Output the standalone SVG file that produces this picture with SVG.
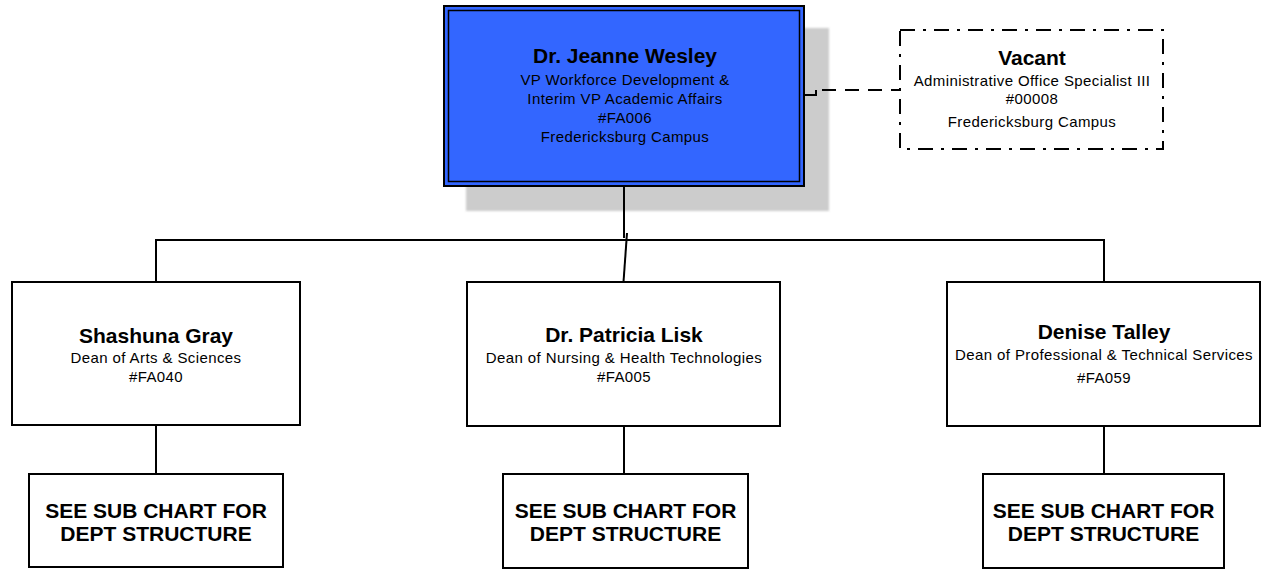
<svg xmlns="http://www.w3.org/2000/svg" width="1261" height="570" viewBox="0 0 1261 570">
  <defs>
    <filter id="soft" x="-5%" y="-5%" width="110%" height="110%">
      <feGaussianBlur stdDeviation="1"/>
    </filter>
  </defs>
  <style>
    .box { fill: #ffffff; stroke: #000000; stroke-width: 2; }
    .name { font-family: "Liberation Sans", Arial, sans-serif; font-weight: bold; font-size: 21px; fill: #000000; text-anchor: middle; }
    .sub { font-family: "Liberation Sans", Arial, sans-serif; font-size: 15px; letter-spacing: 0.4px; fill: #000000; text-anchor: middle; }
    .line { fill: none; stroke: #000000; stroke-width: 2; }
    .dash { fill: none; stroke: #000000; stroke-width: 2; stroke-dasharray: 14 9; }
  </style>
  <rect width="1261" height="570" fill="#ffffff"/>

  <g id="node-jeanne-wesley">
    <rect x="466" y="28" width="363" height="183" fill="#cccccc" filter="url(#soft)"/>
    <rect x="444" y="6" width="360" height="180" fill="#3366ff" stroke="#000000" stroke-width="2"/>
    <rect x="448.5" y="10.5" width="351" height="171" fill="none" stroke="#000000" stroke-width="1.5"/>
    <text class="name" x="625" y="63">Dr. Jeanne Wesley</text>
    <text class="sub" x="625" y="85">VP Workforce Development &amp;</text>
    <text class="sub" x="625" y="104">Interim VP Academic Affairs</text>
    <text class="sub" x="625" y="123">#FA006</text>
    <text class="sub" x="625" y="142">Fredericksburg Campus</text>
  </g>

  <g id="node-vacant">
    <rect x="900" y="30" width="263" height="119" fill="#ffffff" stroke="#000000" stroke-width="2" stroke-dasharray="15 8 3 8"/>
    <text class="name" x="1032" y="65">Vacant</text>
    <text class="sub" x="1032" y="86">Administrative Office Specialist III</text>
    <text class="sub" x="1032" y="104">#00008</text>
    <text class="sub" x="1032" y="127">Fredericksburg Campus</text>
  </g>

  <g id="node-shashuna-gray">
    <rect class="box" x="12" y="282" width="288" height="143"/>
    <text class="name" x="156" y="343">Shashuna Gray</text>
    <text class="sub" x="156" y="363">Dean of Arts &amp; Sciences</text>
    <text class="sub" x="156" y="382">#FA040</text>
  </g>

  <g id="node-patricia-lisk">
    <rect class="box" x="467" y="282" width="313" height="144"/>
    <text class="name" x="624" y="342">Dr. Patricia Lisk</text>
    <text class="sub" x="624" y="363">Dean of Nursing &amp; Health Technologies</text>
    <text class="sub" x="624" y="382">#FA005</text>
  </g>

  <g id="node-denise-talley">
    <rect class="box" x="947" y="282" width="313" height="144"/>
    <text class="name" x="1104" y="339">Denise Talley</text>
    <text class="sub" x="1104" y="360">Dean of Professional &amp; Technical Services</text>
    <text class="sub" x="1104" y="383">#FA059</text>
  </g>

  <g id="node-sub-left">
    <rect class="box" x="29" y="474" width="254" height="93"/>
    <text class="name" x="156" y="518">SEE SUB CHART FOR</text>
    <text class="name" x="156" y="541">DEPT STRUCTURE</text>
  </g>

  <g id="node-sub-middle">
    <rect class="box" x="503" y="474" width="245" height="94"/>
    <text class="name" x="625.5" y="518">SEE SUB CHART FOR</text>
    <text class="name" x="625.5" y="541">DEPT STRUCTURE</text>
  </g>

  <g id="node-sub-right">
    <rect class="box" x="983" y="474" width="241" height="94"/>
    <text class="name" x="1103.5" y="518">SEE SUB CHART FOR</text>
    <text class="name" x="1103.5" y="541">DEPT STRUCTURE</text>
  </g>

  <g id="connectors">
    <line class="line" x1="624" y1="187" x2="624" y2="238"/>
    <line class="line" x1="627" y1="233" x2="623.5" y2="282"/>
    <line class="line" x1="155" y1="240" x2="1105" y2="240"/>
    <line class="line" x1="156" y1="240" x2="156" y2="282"/>
    <line class="line" x1="1104" y1="240" x2="1104" y2="282"/>
    <line class="line" x1="156" y1="425" x2="156" y2="474"/>
    <line class="line" x1="624" y1="426" x2="624" y2="474"/>
    <line class="line" x1="1104" y1="426" x2="1104" y2="474"/>
    <polyline class="line" points="805,95 816,95 816,90"/>
    <line class="dash" x1="822" y1="90" x2="900" y2="90"/>
  </g>
</svg>
